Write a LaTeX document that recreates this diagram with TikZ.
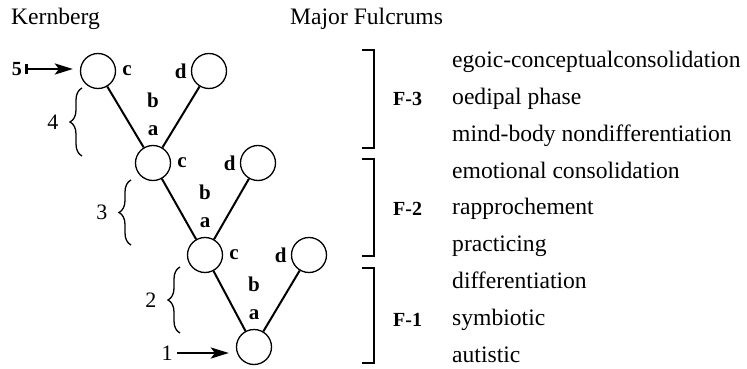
\documentclass[tikz,border=0pt]{standalone}
\usepackage{fontspec}
\setmainfont{Liberation Serif}
\usetikzlibrary{arrows.meta,positioning,decorations.pathreplacing}

\begin{document}
\begin{tikzpicture}[x=1pt, y=-1pt,
  stg/.style   = {circle, draw, line width=1.3pt, minimum size=35pt, inner sep=0pt},
  ltr/.style   = {inner sep=0pt, font=\bfseries\fontsize{21}{21}\selectfont},
  num/.style   = {inner sep=0pt, font=\fontsize{22}{22}\selectfont},
  phase/.style = {anchor=west, inner sep=0pt, text height=16pt, text depth=5pt,
                  font=\fontsize{23.6}{27}\selectfont},
  fl/.style    = {anchor=west, inner sep=0pt, font=\bfseries\fontsize{20}{20}\selectfont},
  lnk/.style   = {line width=2pt},
  brc/.style   = {decorate, decoration={brace, amplitude=12pt}, line width=1.3pt},
  bkt/.style   = {line width=2.3pt},
  arr/.style   = {line width=2.6pt, shorten >=7pt,
                  -{Stealth[length=18pt, width=11pt, inset=4pt]}}]
\useasboundingbox (0,0) rectangle (747,369);

\node[phase] (kern) at (11,19) {Kernberg};
\node[phase] (ful) at (290,19) {Major Fulcrums};

% the ladder of stages
\node[stg] (c5) at (98,71) {};
\node[stg] (d3) at (209,71) {};
\node[stg] (c4) at (153,163) {};
\node[stg] (d2) at (258,163) {};
\node[stg] (c3) at (205,255) {};
\node[stg] (d1) at (309,255) {};
\node[stg] (c1) at (254,347) {};

\draw[lnk] (c4) -- (c5); \draw[lnk] (c4) -- (d3);
\draw[lnk] (c3) -- (c4); \draw[lnk] (c3) -- (d2);
\draw[lnk] (c1) -- (c3); \draw[lnk] (c1) -- (d1);

\node[ltr, right=6pt of c5] (c5l) {c};
\node[ltr, left=4pt of d3] (d3l) {d};
\node[ltr, above=9pt of c4] (a4) {a};
\node[ltr, above=17pt of a4] (b4) {b};

\node[ltr, right=6pt of c4] (c4l) {c};
\node[ltr, left=4pt of d2] (d2l) {d};
\node[ltr, above=9pt of c3] (a3) {a};
\node[ltr, above=17pt of a3] (b3) {b};

\node[ltr, right=6pt of c3] (c3l) {c};
\node[ltr, left=4pt of d1] (d1l) {d};
\node[ltr, above=9pt of c1] (a1) {a};
\node[ltr, above=17pt of a1] (b1) {b};

% braces and entry arrows
\draw[brc] (82,156) -- (82,88) node[num, midway, left=23pt] (n4) {4};
\draw[brc] (131,245) -- (131,180) node[num, midway, left=23pt] (n3) {3};
\draw[brc] (180,333) -- (180,267) node[num, midway, left=23pt] (n2) {2};

\node[num, font=\bfseries\fontsize{20}{20}\selectfont] (n5) at (17,69) {5};
\draw[arr, {Bar[width=10pt]}-{Stealth[length=18pt, width=11pt, inset=4pt]}, shorten <=3pt]
  (n5.east) -- (n5.east -| c5.west);
\node[num] (n1) at (167,353) {1};
\draw[arr, shorten <=4pt] (n1.east) -- (n1.east -| c1.west);

% fulcrums
\draw[bkt] (362,50) -- (374,50) -- (374,148) -- (362,148);
\draw[bkt] (362,159) -- (374,159) -- (374,256) -- (362,256);
\draw[bkt] (362,268) -- (374,268) -- (374,363) -- (362,363);

\node[fl] (f3) at (393,99) {F-3};
\node[fl] (f2) at (393,209) {F-2};
\node[fl] (f1) at (393,320) {F-1};

\node[phase] (p9) at (452,62) {egoic-conceptualconsolidation};
\node[phase] (p8) at (452,99) {oedipal phase};
\node[phase] (p7) at (452,136) {mind-body nondifferentiation};
\node[phase] (p6) at (452,173) {emotional consolidation};
\node[phase] (p5) at (452,209) {rapprochement};
\node[phase] (p4) at (452,246) {practicing};
\node[phase] (p3) at (452,283) {differentiation};
\node[phase] (p2) at (452,320) {symbiotic};
\node[phase] (p1) at (452,357) {autistic};
\end{tikzpicture}
\end{document}
